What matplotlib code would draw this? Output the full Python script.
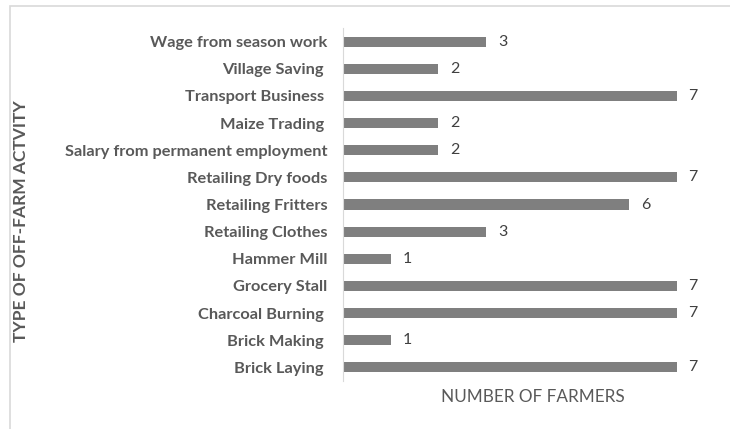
import matplotlib.pyplot as plt
from matplotlib.patches import Rectangle

activities = ['Wage from season work', 'Village Saving ', 'Transport Business ', 'Maize Trading ',
              'Salary from permanent employment', 'Retailing Dry foods', 'Retailing Fritters',
              'Retailing Clothes', 'Hammer Mill', 'Grocery Stall', 'Charcoal Burning ',
              'Brick Making ', 'Brick Laying ']
farmers = [3, 2, 7, 2, 2, 7, 6, 3, 1, 7, 7, 1, 7]

plt.rcParams['font.family'] = ['Lato', 'DejaVu Sans']

W, H = 730, 429
fig = plt.figure(figsize=(W / 100, H / 100), dpi=100)
ax = fig.add_axes([343 / W, 1 - 381 / H, (691 - 343) / W, (381 - 28) / H])

pos = list(range(len(activities)))
ax.barh(pos, farmers, height=0.37, color='#7f7f7f')
for p, v in zip(pos, farmers):
    ax.text(v + 0.25, p, str(v), va='center', ha='left', fontsize=11.5, color='#404040')

ax.set_ylim(len(activities) - 0.5, -0.5)
ax.set_xlim(0, 7.3)
ax.set_yticks(pos)
ax.set_yticklabels(activities, fontsize=11.8, fontweight='bold', color='#595959')
ax.tick_params(axis='y', length=0, pad=11)
ax.set_xticks([])
for s in ['top', 'right', 'bottom']:
    ax.spines[s].set_visible(False)
ax.spines['left'].set_color('#d9d9d9')

fig.text(533 / W, 1 - 397 / H, 'NUMBER OF FARMERS', ha='center', va='center',
         fontsize=12.3, color='#595959')
fig.text(21 / W, 1 - 221 / H, 'TYPE OF OFF-FARM ACTVITY', ha='center', va='center',
         rotation=90, fontsize=12.5, fontweight='bold', color='#595959')

# light frame around the chart area
fig.patches.append(Rectangle((10 / W, -0.05), 1.1, 1.05 - 6 / H, transform=fig.transFigure,
                             fill=False, edgecolor='#d9d9d9', linewidth=1.2))

fig.savefig('out.png', dpi=100)
